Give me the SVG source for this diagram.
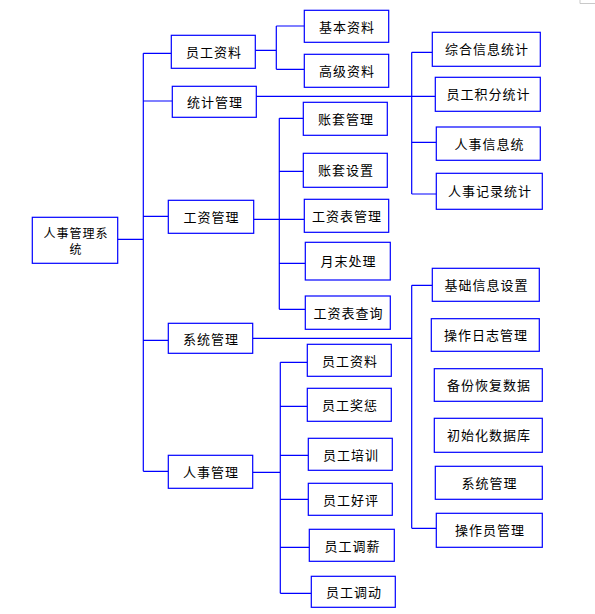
<svg xmlns="http://www.w3.org/2000/svg" width="595" height="614" viewBox="0 0 595 614">
<style>
.b{fill:#fff;stroke:#0000ff;stroke-width:1.2}
.c{fill:none;stroke:#0000ff;stroke-width:1.2}
text{font-family:"Noto Sans CJK SC","Liberation Sans",sans-serif;font-size:13px;fill:#000;text-anchor:middle;dominant-baseline:central;letter-spacing:1px}
text.r{font-size:12px}
</style>
<rect width="595" height="614" fill="#fff"/>
<path d="M580,0V3.5H595" fill="none" stroke="#bbb" stroke-width="0.8"/>
<g id="connectors" class="c">
<path d="M117,239.3H143.3M143.3,53.3V471.3M143.3,53.3H171.3M143.3,101H172.3M143.3,216.3H168.3M143.3,340.3H168.3M143.3,471.3H168.3"/>
<path d="M255.3,50.3H276.3M276.3,26V69.3M276.3,26H304.3M276.3,69.3H304.3"/>
<path d="M256.3,96.3H435.3M411.7,52.3V194M411.7,52.3H432.3M411.7,142.3H436.3M411.7,194H436.3"/>
<path d="M253.7,219.3H279.3M279.3,118.3V309.3M279.3,118.3H303.3M279.3,171.3H303.3M279.3,263.3H305.3M279.3,309.3H305.3M279.3,219.3H304.3"/>
<path d="M252.7,338.3H411.7M411.7,285.3V528.3M411.7,285.3H432.3M411.7,528.3H436.3"/>
<path d="M252.7,472.3H280.3M280.3,362.3V593.3M280.3,362.3H307.3M280.3,406.3H307.3M280.3,455.3H308.3M280.3,499.3H308.3M280.3,547.3H309.3M280.3,593.3H311.3"/>
</g>
<g id="root"><rect class="b" x="32.3" y="217.3" width="85.4" height="46"/><text class="r" x="76" y="232.3">人事管理系</text><text class="r" x="76" y="248.7">统</text></g>
<g id="n_ygzl"><rect class="b" x="171.3" y="35.3" width="84" height="33"/><text x="214" y="51.3">员工资料</text></g>
<g id="n_tjgl"><rect class="b" x="172.3" y="86.3" width="84" height="31"/><text x="215" y="101.3">统计管理</text></g>
<g id="n_gzgl"><rect class="b" x="168.3" y="200.3" width="85.4" height="33"/><text x="211.5" y="216.3">工资管理</text></g>
<g id="n_xtgl"><rect class="b" x="168.3" y="323.3" width="84.4" height="30"/><text x="211" y="338">系统管理</text></g>
<g id="n_rsgl"><rect class="b" x="168.3" y="455.3" width="84.4" height="33"/><text x="211" y="471.3">人事管理</text></g>
<g id="n_jbzl"><rect class="b" x="304.3" y="10.3" width="84.4" height="32"/><text x="347" y="26">基本资料</text></g>
<g id="n_gjzl"><rect class="b" x="304.3" y="54.3" width="84.4" height="33"/><text x="347" y="70.3">高级资料</text></g>
<g id="n_ztgl"><rect class="b" x="303.3" y="102.3" width="84" height="33"/><text x="346" y="118.3">账套管理</text></g>
<g id="n_ztsz"><rect class="b" x="303.3" y="153.3" width="84" height="34"/><text x="346" y="169.8">账套设置</text></g>
<g id="n_gzbgl"><rect class="b" x="304.3" y="199.3" width="84.4" height="33"/><text x="347" y="215.3">工资表管理</text></g>
<g id="n_ymcl"><rect class="b" x="305.3" y="242.3" width="85" height="37.7"/><text x="348.5" y="260.7">月末处理</text></g>
<g id="n_gzbcx"><rect class="b" x="305.3" y="296" width="85" height="33.3"/><text x="348.5" y="312.2">工资表查询</text></g>
<g id="n_zhxx"><rect class="b" x="432.3" y="32.3" width="108" height="34"/><text x="487" y="48.8">综合信息统计</text></g>
<g id="n_ygjf"><rect class="b" x="435.3" y="77.3" width="105" height="34"/><text x="488.5" y="93.8">员工积分统计</text></g>
<g id="n_rsxx"><rect class="b" x="436.3" y="127" width="104" height="33.3"/><text x="489.5" y="143.2">人事信息统</text></g>
<g id="n_rsjl"><rect class="b" x="436.3" y="173.3" width="106" height="36"/><text x="490" y="190.8">人事记录统计</text></g>
<g id="n_jcxx"><rect class="b" x="432.3" y="268.3" width="107" height="33"/><text x="486.5" y="284.3">基础信息设置</text></g>
<g id="n_czrz"><rect class="b" x="431.3" y="318.7" width="108" height="32.6"/><text x="486" y="334.5">操作日志管理</text></g>
<g id="n_bfhf"><rect class="b" x="434.3" y="368.7" width="108" height="32.6"/><text x="489" y="384.5">备份恢复数据</text></g>
<g id="n_csh"><rect class="b" x="434.3" y="418.3" width="108" height="34"/><text x="489" y="434.8">初始化数据库</text></g>
<g id="n_xtgl2"><rect class="b" x="435.3" y="466.3" width="107" height="33"/><text x="489.5" y="482.3">系统管理</text></g>
<g id="n_czy"><rect class="b" x="436.3" y="513.3" width="106" height="34"/><text x="490" y="529.8">操作员管理</text></g>
<g id="n_ygzl2"><rect class="b" x="307.3" y="344.3" width="84" height="32"/><text x="350" y="360">员工资料</text></g>
<g id="n_ygjc"><rect class="b" x="307.3" y="388.3" width="84" height="33"/><text x="350" y="404.3">员工奖惩</text></g>
<g id="n_ygpx"><rect class="b" x="308.3" y="438.3" width="84" height="32"/><text x="351" y="454">员工培训</text></g>
<g id="n_yghp"><rect class="b" x="308.3" y="483.3" width="84" height="32"/><text x="351" y="499">员工好评</text></g>
<g id="n_ygtx"><rect class="b" x="309.3" y="529.3" width="85" height="32"/><text x="352.5" y="545">员工调薪</text></g>
<g id="n_ygtd"><rect class="b" x="311.3" y="576.3" width="84" height="31"/><text x="354" y="591.5">员工调动</text></g>
</svg>
